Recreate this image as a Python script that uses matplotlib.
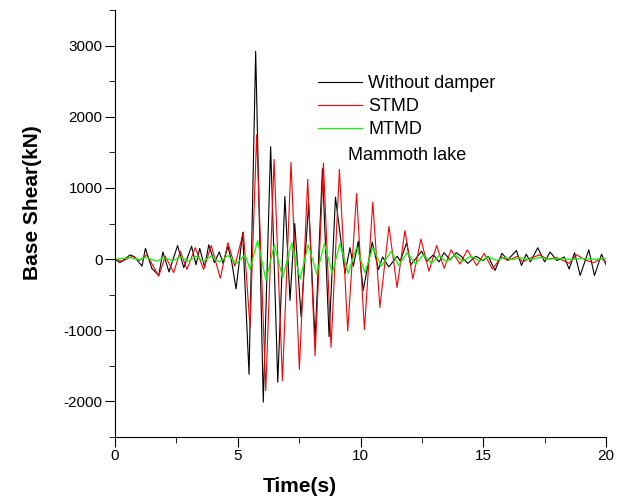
import matplotlib
matplotlib.use("Agg")
import matplotlib.pyplot as plt
from matplotlib.ticker import MultipleLocator

plt.rcParams['font.family'] = ['Liberation Sans', 'DejaVu Sans']
plt.rcParams['axes.unicode_minus'] = False

# peaks / troughs (time in s, base shear in kN)
t_none = [0, 0.2, 0.62, 0.8, 1.1, 1.24, 1.5, 1.78, 1.95, 2.2, 2.55, 2.8, 3.12, 3.3,
          3.45, 3.65, 3.82, 4.05, 4.25, 4.4, 4.6, 4.75, 4.93, 5.2, 5.46, 5.73, 6.04,
          6.34, 6.63, 6.92, 7.13, 7.32, 7.58, 7.89, 8.15, 8.45, 8.72, 8.98, 9.37,
          9.57, 9.71, 9.91, 10.11, 10.48, 10.73, 10.9, 11.15, 11.5, 11.62, 11.88,
          12.05, 12.49, 12.7, 12.97, 13.2, 13.4, 13.65, 13.9, 14.1, 14.37, 14.7,
          15.0, 15.2, 15.48, 15.76, 16.0, 16.35, 16.56, 16.75, 16.92, 17.22, 17.5,
          17.72, 18.0, 18.3, 18.5, 18.72, 18.95, 19.3, 19.53, 19.82, 20.0]
v_none = [0, -50, 60, 30, -100, 150, -130, -230, 100, -180, 190, -120, 180, -80,
          150, -110, 200, -50, 100, -60, 180, -30, -420, 370, -1620, 2920, -2010,
          1580, -1730, 880, -580, 500, -810, 780, -1150, 1270, -1090, 870, -200,
          160, -100, 250, -440, 240, -150, 30, -110, 40, -30, 230,
          -80, 110, -30, 60, -40, 90, -10, 90, 40, -60, 40,
          -20, 40, -160, 80, -10, 120, -90, 70, -40, 160, -40,
          100, -20, 30, -140, 90, -230, 130, -230, 70, -80]

t_stmd = [0, 0.3, 0.7, 1.0, 1.3, 1.78, 2.05, 2.39, 2.66, 2.93, 3.27, 3.61, 3.92,
          4.29, 4.6, 4.88, 5.23, 5.5, 5.77, 6.14, 6.48, 6.82, 7.17, 7.51, 7.85,
          8.15, 8.49, 8.8, 9.14, 9.48, 9.84, 10.16, 10.5, 10.79, 11.16, 11.49,
          11.81, 12.13, 12.46, 12.79, 13.1, 13.41, 13.69, 14.05, 14.35, 14.73,
          15.04, 15.37, 15.75, 16.0, 16.4, 16.6, 16.9, 17.3, 17.6, 18.0, 18.5,
          18.8, 19.2, 19.5, 19.8, 20.0]
v_stmd = [0, -30, 40, -20, 60, -240, 40, -190, 110, -145, 160, -145, 190,
          -270, 230, -100, 380, -960, 1750, -1850, 1400, -1710, 1360, -1550, 1120,
          -1360, 1350, -1240, 1260, -1010, 920, -990, 800, -680, 460, -400,
          400, -280, 280, -170, 190, -130, 130, -70, 130, -90,
          80, -140, 30, -20, 40, -40, 10, 60, 0, 20, -60,
          60, -20, -50, 10, -40]

t_mtmd = [0, 0.6, 1.0, 1.25, 1.7, 2.0, 2.35, 2.65, 3.0, 3.3, 3.6, 3.9, 4.25, 4.6,
          4.95, 5.3, 5.5, 5.81, 6.15, 6.49, 6.83, 7.2, 7.54, 7.87, 8.22, 8.53,
          8.85, 9.16, 9.5, 9.84, 10.18, 10.5, 10.85, 11.25, 11.55, 11.9, 12.25,
          12.55, 12.9, 13.2, 13.5, 13.85, 14.15, 14.5, 14.85, 15.2, 15.55, 15.85,
          16.2, 16.5, 16.9, 17.3, 17.7, 18.2, 18.6, 19.0, 19.5, 20.0]
v_mtmd = [0, 20, -10, 25, -30, 20, -25, 30, -30, 40, -30, 40, -40, 50,
          -60, 60, -145, 260, -300, 200, -260, 230, -280, 200, -210, 220,
          -200, 220, -200, 170, -190, 160, -100, 110, -90, 90, -70,
          60, -60, 50, -40, 60, -30, 40, -30, 30, -20, 25,
          -10, 20, -10, 25, 0, 10, -10, 10, -5, 10]

fig = plt.figure(figsize=(6.29, 5.04), dpi=100)
ax = fig.add_axes([115/629, 1-437/504, 491/629, 427/504])

l1, = ax.plot(t_none, v_none, color='black', lw=0.8)
l2, = ax.plot(t_stmd, v_stmd, color='#ff0000', lw=0.8)
l3, = ax.plot(t_mtmd, v_mtmd, color='#00ff00', lw=0.9)

ax.set_xlim(0, 20)
ax.set_ylim(-2500, 3500)
ax.xaxis.set_major_locator(MultipleLocator(5))
ax.xaxis.set_minor_locator(MultipleLocator(2.5))
ax.yaxis.set_major_locator(MultipleLocator(1000))
ax.yaxis.set_minor_locator(MultipleLocator(500))
ax.spines['top'].set_visible(False)
ax.spines['right'].set_visible(False)
ax.tick_params(which='both', direction='out', labelsize=11, pad=2)
ax.tick_params(which='major', length=7)
ax.tick_params(which='minor', length=4)

ax.set_xlabel("Time(s)", fontsize=15, fontweight='bold')
ax.set_ylabel("Base Shear(kN)", fontsize=15, fontweight='bold')
ax.xaxis.set_label_coords(0.377, -0.094)
ax.yaxis.set_label_coords(-0.149, 0.55)

fig.legend([l1, l2, l3], ["Without damper", "STMD", "MTMD"],
           loc='upper left', bbox_to_anchor=(318/629, 1-75/504),
           frameon=False, fontsize=13, handlelength=2.45, handletextpad=0.33,
           labelspacing=0.34, borderpad=0, borderaxespad=0)
fig.text(348/629, 1-156/504, "Mammoth lake", fontsize=13, va='center')

fig.savefig("out.png", dpi=100)
